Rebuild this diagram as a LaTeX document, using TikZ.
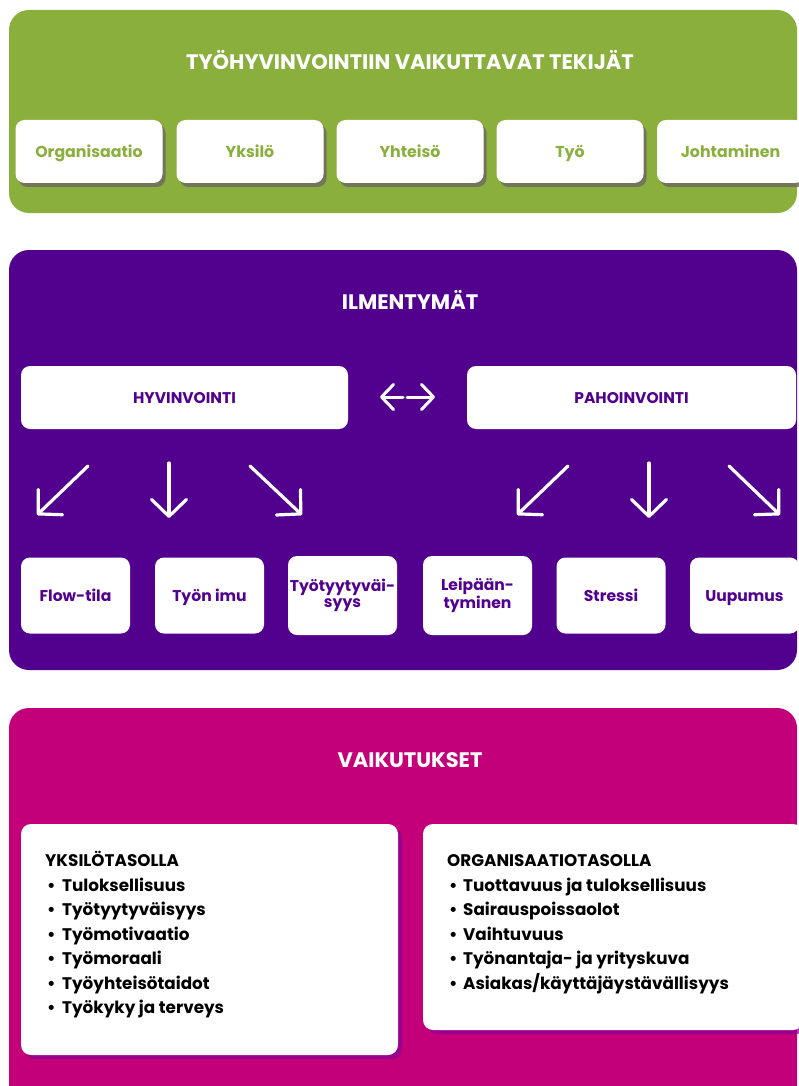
\documentclass[tikz,border=0pt]{standalone}
\usepackage{fontspec}
\setmainfont{Poppins}
\usetikzlibrary{arrows.meta,shadows}
\definecolor{grn}{HTML}{8AAF3D}
\definecolor{prp}{HTML}{52008E}
\definecolor{mag}{HTML}{C3007A}
\definecolor{shgray}{HTML}{6E6660}
\definecolor{shprp}{HTML}{8A0095}
\begin{document}
\begin{tikzpicture}[x=1pt,y=-1pt,
  panel/.style={rounded corners=20pt, draw=none},
  title/.style={text=white, font=\fontsize{21}{23}\selectfont\bfseries, inner sep=0pt,
    text height=15pt, text depth=0pt},
  fbox/.style={fill=white, rounded corners=9pt, minimum width=147pt, minimum height=63pt, inner sep=0pt,
    font=\fontsize{15.8}{17}\selectfont\bfseries, text=grn, text height=15.5pt, text depth=3.5pt,
    drop shadow={shadow xshift=3pt, shadow yshift=-4pt, fill=shgray, opacity=0.8}},
  hbox/.style={fill=white, rounded corners=9pt, minimum height=63pt, inner sep=0pt,
    font=\fontsize{15.5}{17}\selectfont\bfseries, text=prp, text height=11pt, text depth=0pt},
  sbox/.style={fill=white, rounded corners=9pt, minimum width=109pt, minimum height=76pt, inner sep=0pt,
    align=center, font=\fontsize{15.6}{16.5}\selectfont\bfseries, text=prp},
  sboxone/.style={sbox, text height=15.5pt, text depth=3.5pt},
  lbox/.style={fill=white, rounded corners=10pt, inner sep=0pt,
    drop shadow={shadow xshift=4pt, shadow yshift=-4pt, fill=shprp, opacity=0.7}},
  blist/.style={anchor=north west, align=left, inner sep=0pt, text=black,
    font=\fontsize{16.8}{24.5}\selectfont\bfseries},
  warrow/.style={draw=white, line width=3.2pt, line cap=round,
    -{Straight Barb[length=17pt, width=35pt, round]}},
  harrow/.style={draw=white, line width=3pt, line cap=round,
    -{Straight Barb[length=12pt, width=25pt, round]}}
]
\useasboundingbox (0,0) rectangle (798,1086);

% ---------- green panel ----------
\fill[grn, panel] (9,10) rectangle (797,213);
\node[title] (t1) at (410,62) {TYÖHYVINVOINTIIN VAIKUTTAVAT TEKIJÄT};
\node[fbox] (f1) at (89,151.5) {Organisaatio};
\node[fbox] (f2) at (250,151.5) {Yksilö};
\node[fbox] (f3) at (410,151.5) {Yhteisö};
\node[fbox] (f4) at (570,151.5) {Työ};
\node[fbox] (f5) at (730.5,151.5) {Johtaminen};

% ---------- purple panel ----------
\fill[prp, panel] (9,250) rectangle (797,670);
\node[title] (t2) at (410,302) {ILMENTYMÄT};
\node[hbox, minimum width=327pt] (hyv) at (184.5,397.5) {HYVINVOINTI};
\node[hbox, minimum width=329pt] (pah) at (631.5,397.5) {PAHOINVOINTI};
\coordinate (dl) at (380,397);
\coordinate (dlm) at (403,397);
\coordinate (drm) at (407,397);
\coordinate (dr) at (435,397);
\draw[harrow] (dlm) -- (dl);
\draw[harrow] (drm) -- (dr);

\coordinate (a1s) at (88,466);  \coordinate (a1e) at (37,515);
\coordinate (a2s) at (169,463); \coordinate (a2e) at (169,518);
\coordinate (a3s) at (250,466); \coordinate (a3e) at (302,515);
\coordinate (a4s) at (568,466); \coordinate (a4e) at (517,515);
\coordinate (a5s) at (649,463); \coordinate (a5e) at (649,518);
\coordinate (a6s) at (729,466); \coordinate (a6e) at (780,515);
\foreach \i in {1,...,6} { \draw[warrow] (a\i s) -- (a\i e); }

\node[sboxone] (s1) at (75.5,595.5) {Flow-tila};
\node[sboxone] (s2) at (209.5,595.5) {Työn imu};
\node[sbox, minimum height=79pt] (s3) at (342.5,595.5) {\raisebox{-2pt}{Työtyytyväi-}\\\raisebox{-2pt}{syys}};
\node[sbox, minimum height=79pt] (s4) at (477.5,595.5) {\raisebox{-2pt}{Leipään-}\\\raisebox{-2pt}{tyminen}};
\node[sboxone] (s5) at (611,595.5) {Stressi};
\node[sboxone] (s6) at (744.5,595.5) {Uupumus};

% ---------- magenta panel ----------
\fill[mag, panel] (9,708) rectangle (797,1110);
\node[title] (t3) at (410,760) {VAIKUTUKSET};
\node[lbox, minimum width=377pt, minimum height=231pt] (ly) at (209.5,939.5) {};
\node[lbox, minimum width=380pt, minimum height=206pt] (lo) at (613,927) {};

\node[blist] (ty) at (45,851) {\vphantom{Ö}YKSILÖTASOLLA\\
\makebox[17pt][l]{\hspace{2pt}\textbullet}Tuloksellisuus\\
\makebox[17pt][l]{\hspace{2pt}\textbullet}Työtyytyväisyys\\
\makebox[17pt][l]{\hspace{2pt}\textbullet}Työmotivaatio\\
\makebox[17pt][l]{\hspace{2pt}\textbullet}Työmoraali\\
\makebox[17pt][l]{\hspace{2pt}\textbullet}Työyhteisötaidot\\
\makebox[17pt][l]{\hspace{2pt}\textbullet}Työkyky ja terveys};

\node[blist] (to) at (447,851) {\vphantom{Ö}ORGANISAATIOTASOLLA\\
\makebox[16pt][l]{\hspace{2pt}\textbullet}Tuottavuus ja tuloksellisuus\\
\makebox[16pt][l]{\hspace{2pt}\textbullet}Sairauspoissaolot\\
\makebox[16pt][l]{\hspace{2pt}\textbullet}Vaihtuvuus\\
\makebox[16pt][l]{\hspace{2pt}\textbullet}Työnantaja- ja yrityskuva\\
\makebox[16pt][l]{\hspace{2pt}\textbullet}Asiakas/käyttäjäystävällisyys};
\end{tikzpicture}
\end{document}
